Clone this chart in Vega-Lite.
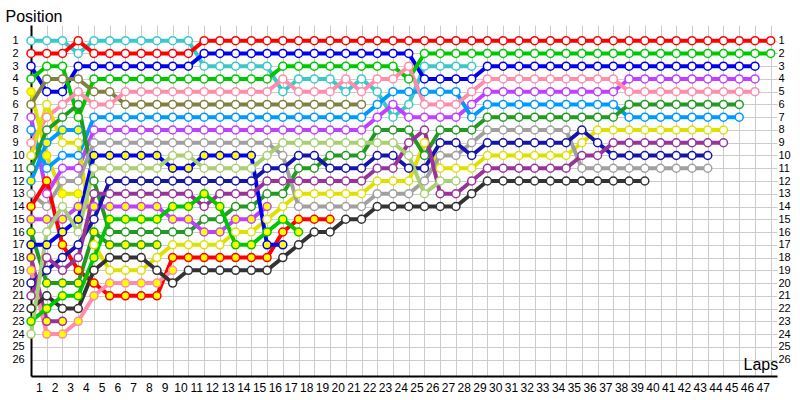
{
"$schema":"https://vega.github.io/schema/vega-lite/v6.json",
"width":746,"height":351,"autosize":"none",
"padding":{"left":31,"top":25,"right":23,"bottom":24},
"background":"white",
"config":{"view":{"stroke":null}},
"data":{"values":[
{"d":"CY","lap":0,"pos":1},{"d":"CY","lap":1,"pos":1},{"d":"CY","lap":2,"pos":1},{"d":"CY","lap":3,"pos":2},{"d":"CY","lap":4,"pos":1},{"d":"CY","lap":5,"pos":1},{"d":"CY","lap":6,"pos":1},{"d":"CY","lap":7,"pos":1},{"d":"CY","lap":8,"pos":1},{"d":"CY","lap":9,"pos":1},{"d":"CY","lap":10,"pos":1},{"d":"CY","lap":11,"pos":3},{"d":"CY","lap":12,"pos":3},{"d":"CY","lap":13,"pos":3},{"d":"CY","lap":14,"pos":3},{"d":"CY","lap":15,"pos":3},{"d":"CY","lap":16,"pos":5},{"d":"CY","lap":17,"pos":4},{"d":"CY","lap":18,"pos":4},{"d":"CY","lap":19,"pos":4},{"d":"CY","lap":20,"pos":5},{"d":"CY","lap":21,"pos":4},{"d":"CY","lap":22,"pos":5},{"d":"CY","lap":23,"pos":7},{"d":"CY","lap":24,"pos":6},{"d":"CY","lap":25,"pos":3},{"d":"CY","lap":26,"pos":3},{"d":"CY","lap":27,"pos":3},{"d":"CY","lap":28,"pos":3},
{"d":"RD","lap":0,"pos":2},{"d":"RD","lap":1,"pos":2},{"d":"RD","lap":2,"pos":2},{"d":"RD","lap":3,"pos":1},{"d":"RD","lap":4,"pos":2},{"d":"RD","lap":5,"pos":2},{"d":"RD","lap":6,"pos":2},{"d":"RD","lap":7,"pos":2},{"d":"RD","lap":8,"pos":2},{"d":"RD","lap":9,"pos":2},{"d":"RD","lap":10,"pos":2},{"d":"RD","lap":11,"pos":1},{"d":"RD","lap":12,"pos":1},{"d":"RD","lap":13,"pos":1},{"d":"RD","lap":14,"pos":1},{"d":"RD","lap":15,"pos":1},{"d":"RD","lap":16,"pos":1},{"d":"RD","lap":17,"pos":1},{"d":"RD","lap":18,"pos":1},{"d":"RD","lap":19,"pos":1},{"d":"RD","lap":20,"pos":1},{"d":"RD","lap":21,"pos":1},{"d":"RD","lap":22,"pos":1},{"d":"RD","lap":23,"pos":1},{"d":"RD","lap":24,"pos":1},{"d":"RD","lap":25,"pos":1},{"d":"RD","lap":26,"pos":1},{"d":"RD","lap":27,"pos":1},{"d":"RD","lap":28,"pos":1},{"d":"RD","lap":29,"pos":1},{"d":"RD","lap":30,"pos":1},{"d":"RD","lap":31,"pos":1},{"d":"RD","lap":32,"pos":1},{"d":"RD","lap":33,"pos":1},{"d":"RD","lap":34,"pos":1},{"d":"RD","lap":35,"pos":1},{"d":"RD","lap":36,"pos":1},{"d":"RD","lap":37,"pos":1},{"d":"RD","lap":38,"pos":1},{"d":"RD","lap":39,"pos":1},{"d":"RD","lap":40,"pos":1},{"d":"RD","lap":41,"pos":1},{"d":"RD","lap":42,"pos":1},{"d":"RD","lap":43,"pos":1},{"d":"RD","lap":44,"pos":1},{"d":"RD","lap":45,"pos":1},{"d":"RD","lap":46,"pos":1},{"d":"RD","lap":47,"pos":1},
{"d":"BL","lap":0,"pos":3},{"d":"BL","lap":1,"pos":5},{"d":"BL","lap":2,"pos":5},{"d":"BL","lap":3,"pos":3},{"d":"BL","lap":4,"pos":3},{"d":"BL","lap":5,"pos":3},{"d":"BL","lap":6,"pos":3},{"d":"BL","lap":7,"pos":3},{"d":"BL","lap":8,"pos":3},{"d":"BL","lap":9,"pos":3},{"d":"BL","lap":10,"pos":3},{"d":"BL","lap":11,"pos":2},{"d":"BL","lap":12,"pos":2},{"d":"BL","lap":13,"pos":2},{"d":"BL","lap":14,"pos":2},{"d":"BL","lap":15,"pos":2},{"d":"BL","lap":16,"pos":2},{"d":"BL","lap":17,"pos":2},{"d":"BL","lap":18,"pos":2},{"d":"BL","lap":19,"pos":2},{"d":"BL","lap":20,"pos":2},{"d":"BL","lap":21,"pos":2},{"d":"BL","lap":22,"pos":2},{"d":"BL","lap":23,"pos":2},{"d":"BL","lap":24,"pos":2},{"d":"BL","lap":25,"pos":4},{"d":"BL","lap":26,"pos":4},{"d":"BL","lap":27,"pos":4},{"d":"BL","lap":28,"pos":4},{"d":"BL","lap":29,"pos":3},{"d":"BL","lap":30,"pos":3},{"d":"BL","lap":31,"pos":3},{"d":"BL","lap":32,"pos":3},{"d":"BL","lap":33,"pos":3},{"d":"BL","lap":34,"pos":3},{"d":"BL","lap":35,"pos":3},{"d":"BL","lap":36,"pos":3},{"d":"BL","lap":37,"pos":3},{"d":"BL","lap":38,"pos":3},{"d":"BL","lap":39,"pos":3},{"d":"BL","lap":40,"pos":3},{"d":"BL","lap":41,"pos":3},{"d":"BL","lap":42,"pos":3},{"d":"BL","lap":43,"pos":3},{"d":"BL","lap":44,"pos":3},{"d":"BL","lap":45,"pos":3},{"d":"BL","lap":46,"pos":3},
{"d":"GR","lap":0,"pos":4},{"d":"GR","lap":1,"pos":3},{"d":"GR","lap":2,"pos":3},{"d":"GR","lap":3,"pos":7},{"d":"GR","lap":4,"pos":4},{"d":"GR","lap":5,"pos":4},{"d":"GR","lap":6,"pos":4},{"d":"GR","lap":7,"pos":4},{"d":"GR","lap":8,"pos":4},{"d":"GR","lap":9,"pos":4},{"d":"GR","lap":10,"pos":4},{"d":"GR","lap":11,"pos":4},{"d":"GR","lap":12,"pos":4},{"d":"GR","lap":13,"pos":4},{"d":"GR","lap":14,"pos":4},{"d":"GR","lap":15,"pos":4},{"d":"GR","lap":16,"pos":3},{"d":"GR","lap":17,"pos":3},{"d":"GR","lap":18,"pos":3},{"d":"GR","lap":19,"pos":3},{"d":"GR","lap":20,"pos":3},{"d":"GR","lap":21,"pos":3},{"d":"GR","lap":22,"pos":3},{"d":"GR","lap":23,"pos":3},{"d":"GR","lap":24,"pos":4},{"d":"GR","lap":25,"pos":2},{"d":"GR","lap":26,"pos":2},{"d":"GR","lap":27,"pos":2},{"d":"GR","lap":28,"pos":2},{"d":"GR","lap":29,"pos":2},{"d":"GR","lap":30,"pos":2},{"d":"GR","lap":31,"pos":2},{"d":"GR","lap":32,"pos":2},{"d":"GR","lap":33,"pos":2},{"d":"GR","lap":34,"pos":2},{"d":"GR","lap":35,"pos":2},{"d":"GR","lap":36,"pos":2},{"d":"GR","lap":37,"pos":2},{"d":"GR","lap":38,"pos":2},{"d":"GR","lap":39,"pos":2},{"d":"GR","lap":40,"pos":2},{"d":"GR","lap":41,"pos":2},{"d":"GR","lap":42,"pos":2},{"d":"GR","lap":43,"pos":2},{"d":"GR","lap":44,"pos":2},{"d":"GR","lap":45,"pos":2},{"d":"GR","lap":46,"pos":2},{"d":"GR","lap":47,"pos":2},
{"d":"YEy","lap":0,"pos":5},{"d":"YEy","lap":1,"pos":10},{"d":"YEy","lap":2,"pos":13},{"d":"YEy","lap":3,"pos":13},
{"d":"OL","lap":0,"pos":6},{"d":"OL","lap":1,"pos":4},{"d":"OL","lap":2,"pos":4},{"d":"OL","lap":3,"pos":4},{"d":"OL","lap":4,"pos":5},{"d":"OL","lap":5,"pos":5},{"d":"OL","lap":6,"pos":6},{"d":"OL","lap":7,"pos":6},{"d":"OL","lap":8,"pos":6},{"d":"OL","lap":9,"pos":6},{"d":"OL","lap":10,"pos":6},{"d":"OL","lap":11,"pos":6},{"d":"OL","lap":12,"pos":6},{"d":"OL","lap":13,"pos":6},{"d":"OL","lap":14,"pos":6},{"d":"OL","lap":15,"pos":6},{"d":"OL","lap":16,"pos":6},{"d":"OL","lap":17,"pos":6},{"d":"OL","lap":18,"pos":6},{"d":"OL","lap":19,"pos":6},{"d":"OL","lap":20,"pos":6},{"d":"OL","lap":21,"pos":6},
{"d":"VI","lap":0,"pos":7},{"d":"VI","lap":1,"pos":13},{"d":"VI","lap":2,"pos":11},{"d":"VI","lap":3,"pos":11},{"d":"VI","lap":4,"pos":8},{"d":"VI","lap":5,"pos":8},{"d":"VI","lap":6,"pos":8},{"d":"VI","lap":7,"pos":8},{"d":"VI","lap":8,"pos":8},{"d":"VI","lap":9,"pos":8},{"d":"VI","lap":10,"pos":8},{"d":"VI","lap":11,"pos":8},{"d":"VI","lap":12,"pos":8},{"d":"VI","lap":13,"pos":8},{"d":"VI","lap":14,"pos":8},{"d":"VI","lap":15,"pos":8},{"d":"VI","lap":16,"pos":8},{"d":"VI","lap":17,"pos":8},{"d":"VI","lap":18,"pos":8},{"d":"VI","lap":19,"pos":8},{"d":"VI","lap":20,"pos":8},{"d":"VI","lap":21,"pos":8},{"d":"VI","lap":22,"pos":7},{"d":"VI","lap":23,"pos":6},{"d":"VI","lap":24,"pos":7},{"d":"VI","lap":25,"pos":7},{"d":"VI","lap":26,"pos":7},{"d":"VI","lap":27,"pos":7},{"d":"VI","lap":28,"pos":6},{"d":"VI","lap":29,"pos":5},{"d":"VI","lap":30,"pos":5},{"d":"VI","lap":31,"pos":5},{"d":"VI","lap":32,"pos":5},{"d":"VI","lap":33,"pos":5},{"d":"VI","lap":34,"pos":5},{"d":"VI","lap":35,"pos":5},{"d":"VI","lap":36,"pos":5},{"d":"VI","lap":37,"pos":5},{"d":"VI","lap":38,"pos":4},{"d":"VI","lap":39,"pos":4},{"d":"VI","lap":40,"pos":4},{"d":"VI","lap":41,"pos":4},{"d":"VI","lap":42,"pos":4},{"d":"VI","lap":43,"pos":4},{"d":"VI","lap":44,"pos":4},{"d":"VI","lap":45,"pos":4},{"d":"VI","lap":46,"pos":4},
{"d":"LB","lap":0,"pos":8},{"d":"LB","lap":1,"pos":11},{"d":"LB","lap":2,"pos":10},{"d":"LB","lap":3,"pos":10},{"d":"LB","lap":4,"pos":7},{"d":"LB","lap":5,"pos":7},{"d":"LB","lap":6,"pos":7},{"d":"LB","lap":7,"pos":7},{"d":"LB","lap":8,"pos":7},{"d":"LB","lap":9,"pos":7},{"d":"LB","lap":10,"pos":7},{"d":"LB","lap":11,"pos":7},{"d":"LB","lap":12,"pos":7},{"d":"LB","lap":13,"pos":7},{"d":"LB","lap":14,"pos":7},{"d":"LB","lap":15,"pos":7},{"d":"LB","lap":16,"pos":7},{"d":"LB","lap":17,"pos":7},{"d":"LB","lap":18,"pos":7},{"d":"LB","lap":19,"pos":7},{"d":"LB","lap":20,"pos":7},{"d":"LB","lap":21,"pos":7},{"d":"LB","lap":22,"pos":6},{"d":"LB","lap":23,"pos":5},{"d":"LB","lap":24,"pos":5},{"d":"LB","lap":25,"pos":5},{"d":"LB","lap":26,"pos":5},{"d":"LB","lap":27,"pos":5},{"d":"LB","lap":28,"pos":7},{"d":"LB","lap":29,"pos":6},{"d":"LB","lap":30,"pos":6},{"d":"LB","lap":31,"pos":6},{"d":"LB","lap":32,"pos":6},{"d":"LB","lap":33,"pos":6},{"d":"LB","lap":34,"pos":6},{"d":"LB","lap":35,"pos":6},{"d":"LB","lap":36,"pos":6},{"d":"LB","lap":37,"pos":6},{"d":"LB","lap":38,"pos":7},{"d":"LB","lap":39,"pos":7},{"d":"LB","lap":40,"pos":7},{"d":"LB","lap":41,"pos":7},{"d":"LB","lap":42,"pos":7},{"d":"LB","lap":43,"pos":7},{"d":"LB","lap":44,"pos":7},{"d":"LB","lap":45,"pos":7},
{"d":"PK","lap":0,"pos":9},{"d":"PK","lap":1,"pos":7},{"d":"PK","lap":2,"pos":6},{"d":"PK","lap":3,"pos":5},{"d":"PK","lap":4,"pos":6},{"d":"PK","lap":5,"pos":6},{"d":"PK","lap":6,"pos":5},{"d":"PK","lap":7,"pos":5},{"d":"PK","lap":8,"pos":5},{"d":"PK","lap":9,"pos":5},{"d":"PK","lap":10,"pos":5},{"d":"PK","lap":11,"pos":5},{"d":"PK","lap":12,"pos":5},{"d":"PK","lap":13,"pos":5},{"d":"PK","lap":14,"pos":5},{"d":"PK","lap":15,"pos":5},{"d":"PK","lap":16,"pos":4},{"d":"PK","lap":17,"pos":5},{"d":"PK","lap":18,"pos":5},{"d":"PK","lap":19,"pos":5},{"d":"PK","lap":20,"pos":4},{"d":"PK","lap":21,"pos":5},{"d":"PK","lap":22,"pos":4},{"d":"PK","lap":23,"pos":4},{"d":"PK","lap":24,"pos":3},{"d":"PK","lap":25,"pos":6},{"d":"PK","lap":26,"pos":6},{"d":"PK","lap":27,"pos":6},{"d":"PK","lap":28,"pos":5},{"d":"PK","lap":29,"pos":4},{"d":"PK","lap":30,"pos":4},{"d":"PK","lap":31,"pos":4},{"d":"PK","lap":32,"pos":4},{"d":"PK","lap":33,"pos":4},{"d":"PK","lap":34,"pos":4},{"d":"PK","lap":35,"pos":4},{"d":"PK","lap":36,"pos":4},{"d":"PK","lap":37,"pos":4},{"d":"PK","lap":38,"pos":5},{"d":"PK","lap":39,"pos":5},{"d":"PK","lap":40,"pos":5},{"d":"PK","lap":41,"pos":5},{"d":"PK","lap":42,"pos":5},{"d":"PK","lap":43,"pos":5},{"d":"PK","lap":44,"pos":5},{"d":"PK","lap":45,"pos":5},{"d":"PK","lap":46,"pos":5},
{"d":"YE","lap":0,"pos":10},{"d":"YE","lap":1,"pos":6},{"d":"YE","lap":2,"pos":9},{"d":"YE","lap":3,"pos":9},{"d":"YE","lap":4,"pos":17},{"d":"YE","lap":5,"pos":19},{"d":"YE","lap":6,"pos":19},{"d":"YE","lap":7,"pos":19},{"d":"YE","lap":8,"pos":18},{"d":"YE","lap":9,"pos":17},{"d":"YE","lap":10,"pos":17},{"d":"YE","lap":11,"pos":17},{"d":"YE","lap":12,"pos":17},{"d":"YE","lap":13,"pos":16},{"d":"YE","lap":14,"pos":16},{"d":"YE","lap":15,"pos":15},{"d":"YE","lap":16,"pos":14},{"d":"YE","lap":17,"pos":13},{"d":"YE","lap":18,"pos":13},{"d":"YE","lap":19,"pos":13},{"d":"YE","lap":20,"pos":13},{"d":"YE","lap":21,"pos":13},{"d":"YE","lap":22,"pos":12},{"d":"YE","lap":23,"pos":12},{"d":"YE","lap":24,"pos":12},{"d":"YE","lap":25,"pos":9},{"d":"YE","lap":26,"pos":11},{"d":"YE","lap":27,"pos":11},{"d":"YE","lap":28,"pos":11},{"d":"YE","lap":29,"pos":10},{"d":"YE","lap":30,"pos":10},{"d":"YE","lap":31,"pos":10},{"d":"YE","lap":32,"pos":10},{"d":"YE","lap":33,"pos":10},{"d":"YE","lap":34,"pos":10},{"d":"YE","lap":35,"pos":9},{"d":"YE","lap":36,"pos":8},{"d":"YE","lap":37,"pos":8},{"d":"YE","lap":38,"pos":8},{"d":"YE","lap":39,"pos":8},{"d":"YE","lap":40,"pos":8},{"d":"YE","lap":41,"pos":8},{"d":"YE","lap":42,"pos":8},{"d":"YE","lap":43,"pos":8},{"d":"YE","lap":44,"pos":8},
{"d":"DG","lap":0,"pos":11},{"d":"DG","lap":1,"pos":8},{"d":"DG","lap":2,"pos":7},{"d":"DG","lap":3,"pos":6},{"d":"DG","lap":4,"pos":12},{"d":"DG","lap":5,"pos":16},{"d":"DG","lap":6,"pos":16},{"d":"DG","lap":7,"pos":16},{"d":"DG","lap":8,"pos":16},{"d":"DG","lap":9,"pos":16},{"d":"DG","lap":10,"pos":16},{"d":"DG","lap":11,"pos":15},{"d":"DG","lap":12,"pos":15},{"d":"DG","lap":13,"pos":14},{"d":"DG","lap":14,"pos":14},{"d":"DG","lap":15,"pos":13},{"d":"DG","lap":16,"pos":13},{"d":"DG","lap":17,"pos":11},{"d":"DG","lap":18,"pos":11},{"d":"DG","lap":19,"pos":10},{"d":"DG","lap":20,"pos":10},{"d":"DG","lap":21,"pos":10},{"d":"DG","lap":22,"pos":8},{"d":"DG","lap":23,"pos":8},{"d":"DG","lap":24,"pos":8},{"d":"DG","lap":25,"pos":10},{"d":"DG","lap":26,"pos":8},{"d":"DG","lap":27,"pos":8},{"d":"DG","lap":28,"pos":8},{"d":"DG","lap":29,"pos":7},{"d":"DG","lap":30,"pos":7},{"d":"DG","lap":31,"pos":7},{"d":"DG","lap":32,"pos":7},{"d":"DG","lap":33,"pos":7},{"d":"DG","lap":34,"pos":7},{"d":"DG","lap":35,"pos":7},{"d":"DG","lap":36,"pos":7},{"d":"DG","lap":37,"pos":7},{"d":"DG","lap":38,"pos":6},{"d":"DG","lap":39,"pos":6},{"d":"DG","lap":40,"pos":6},{"d":"DG","lap":41,"pos":6},{"d":"DG","lap":42,"pos":6},{"d":"DG","lap":43,"pos":6},{"d":"DG","lap":44,"pos":6},{"d":"DG","lap":45,"pos":6},
{"d":"LBy","lap":0,"pos":12},{"d":"LBy","lap":1,"pos":9},{"d":"LBy","lap":2,"pos":8},{"d":"LBy","lap":3,"pos":8},
{"d":"GY","lap":0,"pos":13},{"d":"GY","lap":1,"pos":14},{"d":"GY","lap":2,"pos":12},{"d":"GY","lap":3,"pos":12},{"d":"GY","lap":4,"pos":9},{"d":"GY","lap":5,"pos":9},{"d":"GY","lap":6,"pos":9},{"d":"GY","lap":7,"pos":9},{"d":"GY","lap":8,"pos":9},{"d":"GY","lap":9,"pos":9},{"d":"GY","lap":10,"pos":9},{"d":"GY","lap":11,"pos":9},{"d":"GY","lap":12,"pos":9},{"d":"GY","lap":13,"pos":9},{"d":"GY","lap":14,"pos":9},{"d":"GY","lap":15,"pos":9},{"d":"GY","lap":16,"pos":10},{"d":"GY","lap":17,"pos":14},{"d":"GY","lap":18,"pos":14},{"d":"GY","lap":19,"pos":14},{"d":"GY","lap":20,"pos":14},{"d":"GY","lap":21,"pos":14},{"d":"GY","lap":22,"pos":13},{"d":"GY","lap":23,"pos":13},{"d":"GY","lap":24,"pos":13},{"d":"GY","lap":25,"pos":12},{"d":"GY","lap":26,"pos":10},{"d":"GY","lap":27,"pos":10},{"d":"GY","lap":28,"pos":9},{"d":"GY","lap":29,"pos":8},{"d":"GY","lap":30,"pos":8},{"d":"GY","lap":31,"pos":8},{"d":"GY","lap":32,"pos":8},{"d":"GY","lap":33,"pos":8},{"d":"GY","lap":34,"pos":8},{"d":"GY","lap":35,"pos":11},{"d":"GY","lap":36,"pos":11},{"d":"GY","lap":37,"pos":11},{"d":"GY","lap":38,"pos":11},{"d":"GY","lap":39,"pos":11},{"d":"GY","lap":40,"pos":11},{"d":"GY","lap":41,"pos":11},{"d":"GY","lap":42,"pos":11},{"d":"GY","lap":43,"pos":11},
{"d":"RDy","lap":0,"pos":14},{"d":"RDy","lap":1,"pos":12},{"d":"RDy","lap":2,"pos":17},{"d":"RDy","lap":3,"pos":19},{"d":"RDy","lap":4,"pos":20},{"d":"RDy","lap":5,"pos":21},{"d":"RDy","lap":6,"pos":21},{"d":"RDy","lap":7,"pos":21},{"d":"RDy","lap":8,"pos":21},{"d":"RDy","lap":9,"pos":18},{"d":"RDy","lap":10,"pos":18},{"d":"RDy","lap":11,"pos":18},{"d":"RDy","lap":12,"pos":18},{"d":"RDy","lap":13,"pos":18},{"d":"RDy","lap":14,"pos":18},{"d":"RDy","lap":15,"pos":18},{"d":"RDy","lap":16,"pos":16},{"d":"RDy","lap":17,"pos":15},{"d":"RDy","lap":18,"pos":15},{"d":"RDy","lap":19,"pos":15},
{"d":"VIy","lap":0,"pos":15},{"d":"VIy","lap":1,"pos":15},{"d":"VIy","lap":2,"pos":15},{"d":"VIy","lap":3,"pos":14},{"d":"VIy","lap":4,"pos":14},{"d":"VIy","lap":5,"pos":14},{"d":"VIy","lap":6,"pos":14},{"d":"VIy","lap":7,"pos":14},{"d":"VIy","lap":8,"pos":14},{"d":"VIy","lap":9,"pos":15},{"d":"VIy","lap":10,"pos":15},{"d":"VIy","lap":11,"pos":16},{"d":"VIy","lap":12,"pos":16},{"d":"VIy","lap":13,"pos":15},{"d":"VIy","lap":14,"pos":15},{"d":"VIy","lap":15,"pos":14},
{"d":"DGy","lap":0,"pos":16},{"d":"DGy","lap":1,"pos":20},{"d":"DGy","lap":2,"pos":20},{"d":"DGy","lap":3,"pos":20},{"d":"DGy","lap":4,"pos":16},{"d":"DGy","lap":5,"pos":17},{"d":"DGy","lap":6,"pos":17},{"d":"DGy","lap":7,"pos":17},{"d":"DGy","lap":8,"pos":17},
{"d":"BLy","lap":0,"pos":17},{"d":"BLy","lap":1,"pos":17},{"d":"BLy","lap":2,"pos":16},{"d":"BLy","lap":3,"pos":15},{"d":"BLy","lap":4,"pos":10},{"d":"BLy","lap":5,"pos":10},{"d":"BLy","lap":6,"pos":10},{"d":"BLy","lap":7,"pos":10},{"d":"BLy","lap":8,"pos":10},{"d":"BLy","lap":9,"pos":11},{"d":"BLy","lap":10,"pos":11},{"d":"BLy","lap":11,"pos":10},{"d":"BLy","lap":12,"pos":10},{"d":"BLy","lap":13,"pos":10},{"d":"BLy","lap":14,"pos":10},{"d":"BLy","lap":15,"pos":17},{"d":"BLy","lap":16,"pos":17},
{"d":"PUy","lap":0,"pos":18},{"d":"PUy","lap":1,"pos":23},{"d":"PUy","lap":2,"pos":23},
{"d":"PKy","lap":0,"pos":19},{"d":"PKy","lap":1,"pos":24},{"d":"PKy","lap":2,"pos":24},{"d":"PKy","lap":3,"pos":23},{"d":"PKy","lap":4,"pos":21},{"d":"PKy","lap":5,"pos":20},{"d":"PKy","lap":6,"pos":20},{"d":"PKy","lap":7,"pos":20},{"d":"PKy","lap":8,"pos":20},{"d":"PKy","lap":9,"pos":19},
{"d":"NV","lap":0,"pos":20},{"d":"NV","lap":1,"pos":19},{"d":"NV","lap":2,"pos":18},{"d":"NV","lap":3,"pos":17},{"d":"NV","lap":4,"pos":15},{"d":"NV","lap":5,"pos":12},{"d":"NV","lap":6,"pos":12},{"d":"NV","lap":7,"pos":12},{"d":"NV","lap":8,"pos":12},{"d":"NV","lap":9,"pos":12},{"d":"NV","lap":10,"pos":12},{"d":"NV","lap":11,"pos":12},{"d":"NV","lap":12,"pos":12},{"d":"NV","lap":13,"pos":12},{"d":"NV","lap":14,"pos":12},{"d":"NV","lap":15,"pos":11},{"d":"NV","lap":16,"pos":11},{"d":"NV","lap":17,"pos":10},{"d":"NV","lap":18,"pos":10},{"d":"NV","lap":19,"pos":11},{"d":"NV","lap":20,"pos":11},{"d":"NV","lap":21,"pos":11},{"d":"NV","lap":22,"pos":10},{"d":"NV","lap":23,"pos":10},{"d":"NV","lap":24,"pos":11},{"d":"NV","lap":25,"pos":11},{"d":"NV","lap":26,"pos":9},{"d":"NV","lap":27,"pos":9},{"d":"NV","lap":28,"pos":10},{"d":"NV","lap":29,"pos":9},{"d":"NV","lap":30,"pos":9},{"d":"NV","lap":31,"pos":9},{"d":"NV","lap":32,"pos":9},{"d":"NV","lap":33,"pos":9},{"d":"NV","lap":34,"pos":9},{"d":"NV","lap":35,"pos":8},{"d":"NV","lap":36,"pos":9},{"d":"NV","lap":37,"pos":10},{"d":"NV","lap":38,"pos":10},{"d":"NV","lap":39,"pos":10},{"d":"NV","lap":40,"pos":10},{"d":"NV","lap":41,"pos":10},{"d":"NV","lap":42,"pos":10},{"d":"NV","lap":43,"pos":10},
{"d":"PU","lap":0,"pos":21},{"d":"PU","lap":1,"pos":18},{"d":"PU","lap":2,"pos":19},{"d":"PU","lap":3,"pos":18},{"d":"PU","lap":4,"pos":13},{"d":"PU","lap":5,"pos":13},{"d":"PU","lap":6,"pos":13},{"d":"PU","lap":7,"pos":13},{"d":"PU","lap":8,"pos":13},{"d":"PU","lap":9,"pos":13},{"d":"PU","lap":10,"pos":13},{"d":"PU","lap":11,"pos":14},{"d":"PU","lap":12,"pos":13},{"d":"PU","lap":13,"pos":13},{"d":"PU","lap":14,"pos":13},{"d":"PU","lap":15,"pos":12},{"d":"PU","lap":16,"pos":12},{"d":"PU","lap":17,"pos":12},{"d":"PU","lap":18,"pos":12},{"d":"PU","lap":19,"pos":12},{"d":"PU","lap":20,"pos":12},{"d":"PU","lap":21,"pos":12},{"d":"PU","lap":22,"pos":11},{"d":"PU","lap":23,"pos":11},{"d":"PU","lap":24,"pos":9},{"d":"PU","lap":25,"pos":8},{"d":"PU","lap":26,"pos":13},{"d":"PU","lap":27,"pos":13},{"d":"PU","lap":28,"pos":12},{"d":"PU","lap":29,"pos":11},{"d":"PU","lap":30,"pos":11},{"d":"PU","lap":31,"pos":11},{"d":"PU","lap":32,"pos":11},{"d":"PU","lap":33,"pos":11},{"d":"PU","lap":34,"pos":11},{"d":"PU","lap":35,"pos":10},{"d":"PU","lap":36,"pos":10},{"d":"PU","lap":37,"pos":9},{"d":"PU","lap":38,"pos":9},{"d":"PU","lap":39,"pos":9},{"d":"PU","lap":40,"pos":9},{"d":"PU","lap":41,"pos":9},{"d":"PU","lap":42,"pos":9},{"d":"PU","lap":43,"pos":9},{"d":"PU","lap":44,"pos":9},
{"d":"BK","lap":0,"pos":22},{"d":"BK","lap":1,"pos":21},{"d":"BK","lap":2,"pos":22},{"d":"BK","lap":3,"pos":22},{"d":"BK","lap":4,"pos":19},{"d":"BK","lap":5,"pos":18},{"d":"BK","lap":6,"pos":18},{"d":"BK","lap":7,"pos":18},{"d":"BK","lap":8,"pos":19},{"d":"BK","lap":9,"pos":20},{"d":"BK","lap":10,"pos":19},{"d":"BK","lap":11,"pos":19},{"d":"BK","lap":12,"pos":19},{"d":"BK","lap":13,"pos":19},{"d":"BK","lap":14,"pos":19},{"d":"BK","lap":15,"pos":19},{"d":"BK","lap":16,"pos":18},{"d":"BK","lap":17,"pos":17},{"d":"BK","lap":18,"pos":16},{"d":"BK","lap":19,"pos":16},{"d":"BK","lap":20,"pos":15},{"d":"BK","lap":21,"pos":15},{"d":"BK","lap":22,"pos":14},{"d":"BK","lap":23,"pos":14},{"d":"BK","lap":24,"pos":14},{"d":"BK","lap":25,"pos":14},{"d":"BK","lap":26,"pos":14},{"d":"BK","lap":27,"pos":14},{"d":"BK","lap":28,"pos":13},{"d":"BK","lap":29,"pos":12},{"d":"BK","lap":30,"pos":12},{"d":"BK","lap":31,"pos":12},{"d":"BK","lap":32,"pos":12},{"d":"BK","lap":33,"pos":12},{"d":"BK","lap":34,"pos":12},{"d":"BK","lap":35,"pos":12},{"d":"BK","lap":36,"pos":12},{"d":"BK","lap":37,"pos":12},{"d":"BK","lap":38,"pos":12},{"d":"BK","lap":39,"pos":12},
{"d":"GRy","lap":0,"pos":23},{"d":"GRy","lap":1,"pos":22},{"d":"GRy","lap":2,"pos":21},{"d":"GRy","lap":3,"pos":21},{"d":"GRy","lap":4,"pos":18},{"d":"GRy","lap":5,"pos":15},{"d":"GRy","lap":6,"pos":15},{"d":"GRy","lap":7,"pos":15},{"d":"GRy","lap":8,"pos":15},{"d":"GRy","lap":9,"pos":14},{"d":"GRy","lap":10,"pos":14},{"d":"GRy","lap":11,"pos":13},{"d":"GRy","lap":12,"pos":14},{"d":"GRy","lap":13,"pos":17},{"d":"GRy","lap":14,"pos":17},{"d":"GRy","lap":15,"pos":16},{"d":"GRy","lap":16,"pos":15},{"d":"GRy","lap":17,"pos":16},
{"d":"LG","lap":0,"pos":24},{"d":"LG","lap":1,"pos":16},{"d":"LG","lap":2,"pos":14},{"d":"LG","lap":3,"pos":16},{"d":"LG","lap":4,"pos":11},{"d":"LG","lap":5,"pos":11},{"d":"LG","lap":6,"pos":11},{"d":"LG","lap":7,"pos":11},{"d":"LG","lap":8,"pos":11},{"d":"LG","lap":9,"pos":10},{"d":"LG","lap":10,"pos":10},{"d":"LG","lap":11,"pos":11},{"d":"LG","lap":12,"pos":11},{"d":"LG","lap":13,"pos":11},{"d":"LG","lap":14,"pos":11},{"d":"LG","lap":15,"pos":10},{"d":"LG","lap":16,"pos":9},{"d":"LG","lap":17,"pos":9},{"d":"LG","lap":18,"pos":9},{"d":"LG","lap":19,"pos":9},{"d":"LG","lap":20,"pos":9},{"d":"LG","lap":21,"pos":9},{"d":"LG","lap":22,"pos":9},{"d":"LG","lap":23,"pos":9},{"d":"LG","lap":24,"pos":10},{"d":"LG","lap":25,"pos":13},{"d":"LG","lap":26,"pos":12},{"d":"LG","lap":27,"pos":12}
]},
"encoding":{
"x":{"field":"lap","type":"quantitative","scale":{"domain":[0,47.4],"nice":false,"zero":false},
"axis":{"values":[1,2,3,4,5,6,7,8,9,10,11,12,13,14,15,16,17,18,19,20,21,22,23,24,25,26,27,28,29,30,31,32,33,34,35,36,37,38,39,40,41,42,43,44,45,46,47],
"labelOffset":-8,"ticks":false,"tickSize":0,"domainColor":"#000000","domainWidth":2,"grid":true,"gridColor":"#cccccc","gridWidth":1,
"labelFont":"Liberation Sans","labelFontSize":12,"labelColor":"#000000","labelPadding":6,"labelOverlap":false,"labelFlush":false,
"title":"Laps","titleFont":"Liberation Sans","titleFontSize":16,"titleFontWeight":"normal","titleColor":"#000000","titleAlign":"left","titleBaseline":"alphabetic","titleX":712,"titleY":-7}},
"stroke":{"field":"d","type":"nominal","legend":null,"scale":{
"domain":["CY","RD","RDy","BL","BLy","GR","GRy","YE","YEy","OL","VI","VIy","LB","LBy","PK","PKy","DG","DGy","GY","PU","PUy","NV","BK","LG"],
"range":["#3cc8c8","#ff0000","#ff0000","#0000f0","#0000f0","#00c800","#00c800","#e0e000","#e0e000","#808040","#c040ff","#c040ff","#0099ff","#0099ff","#ff8caa","#ff8caa","#229a22","#229a22","#a0a0a0","#993399","#993399","#1515a8","#333333","#a8d070"]}}
},
"layer":[
{"mark":{"type":"line","strokeWidth":4,"strokeJoin":"round","strokeCap":"round"},
"encoding":{"detail":{"field":"d"},
"y":{"field":"pos","type":"quantitative","scale":{"domain":[-0.232,27.29],"reverse":true,"nice":false,"zero":false},
"axis":{"orient":"left","values":[1,2,3,4,5,6,7,8,9,10,11,12,13,14,15,16,17,18,19,20,21,22,23,24,25,26],
"ticks":false,"tickSize":0,"domainColor":"#000000","domainWidth":2,"grid":true,"gridColor":"#cccccc","gridWidth":1,
"labelFont":"Liberation Sans","labelFontSize":11,"labelColor":"#000000","labelAlign":"left","labelPadding":19,"labelOverlap":false,"labelFlush":false,
"title":"Position","titleFont":"Liberation Sans","titleFontSize":16,"titleFontWeight":"normal","titleColor":"#000000","titleAngle":0,"titleAlign":"left","titleBaseline":"alphabetic","titleX":-26,"titleY":-4}}}},
{"mark":{"type":"point","shape":"circle","filled":true,"size":64,"strokeWidth":1.5,"opacity":1},
"encoding":{
"y":{"field":"pos","type":"quantitative","scale":{"domain":[-0.232,27.29],"reverse":true,"nice":false,"zero":false},
"axis":{"orient":"right","values":[1,2,3,4,5,6,7,8,9,10,11,12,13,14,15,16,17,18,19,20,21,22,23,24,25,26],
"ticks":false,"tickSize":0,"domain":false,"grid":false,
"labelFont":"Liberation Sans","labelFontSize":11,"labelColor":"#000000","labelAlign":"left","labelPadding":1,"labelOverlap":false,"labelFlush":false,"title":null}},
"fill":{"field":"d","type":"nominal","legend":null,"scale":{
"domain":["CY","RD","RDy","BL","BLy","GR","GRy","YE","YEy","OL","VI","VIy","LB","LBy","PK","PKy","DG","DGy","GY","PU","PUy","NV","BK","LG"],
"range":["#ffffff","#ffffff","#ffff00","#ffffff","#ffff00","#ffffff","#ffff00","#ffffff","#ffff00","#ffffff","#ffffff","#ffff00","#ffffff","#ffff00","#ffffff","#ffff00","#ffffff","#ffff00","#ffffff","#ffffff","#ffff00","#ffffff","#ffffff","#ffffff"]}}}}
],
"resolve":{"axis":{"y":"independent"}}
}
